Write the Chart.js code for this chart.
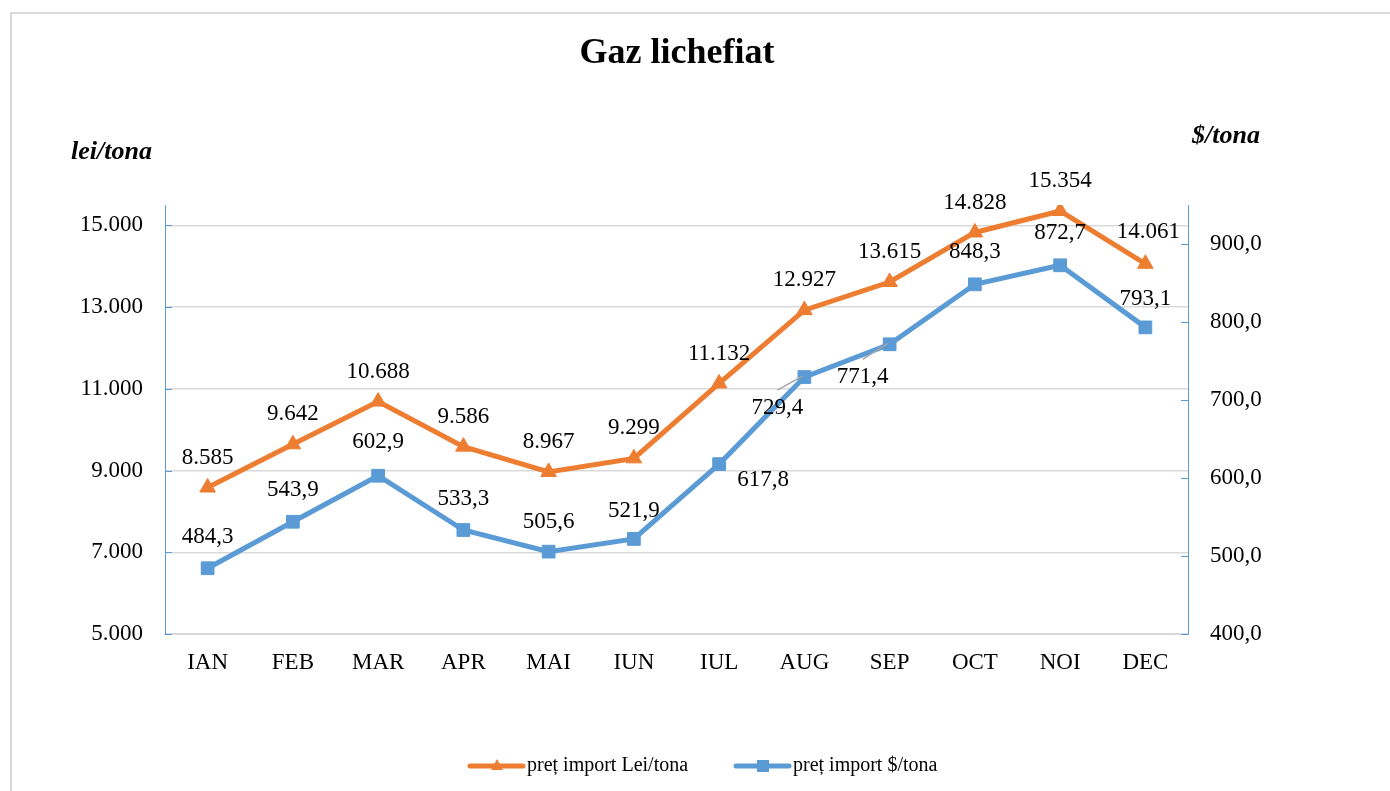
<!DOCTYPE html>
<html>
<head>
<meta charset="utf-8">
<script src="https://cdn.jsdelivr.net/npm/chart.js@4/dist/chart.umd.min.js"></script>
<style>
  html, body { margin: 0; padding: 0; background: #fff; }
  #wrap { width: 1390px; height: 791px; position: relative; }
</style>
</head>
<body>
<div id="wrap"><canvas id="chart"></canvas></div>
<script>
// date
const luni = ['IAN', 'FEB', 'MAR', 'APR', 'MAI', 'IUN', 'IUL', 'AUG', 'SEP', 'OCT', 'NOI', 'DEC'];
const pretLei = [8585, 9642, 10688, 9586, 8967, 9299, 11132, 12927, 13615, 14828, 15354, 14061];
const pretUsd = [484.3, 543.9, 602.9, 533.3, 505.6, 521.9, 617.8, 729.4, 771.4, 848.3, 872.7, 793.1];
const tickLei = [5000, 7000, 9000, 11000, 13000, 15000];
const tickUsd = [400, 500, 600, 700, 800, 900];

// pozitia etichetelor fata de punct (dx, dy)
const offLei = luni.map((l, i) => i === 11 ? [3, -32] : [0, -30]);
const offUsd = [[0, -31], [0, -32], [0, -34], [0, -31], [0, -30], [0, -28], [44, 16], [-27, 31], [-27, 33], [0, -32], [0, -32], [0, -28]];

const ORANGE = '#ED7D31';
const BLUE = '#5B9BD5';
const FONT = '"Liberation Serif", "Times New Roman", serif';

const fmtLei = v => Math.round(v).toString().replace(/\B(?=(\d{3})+(?!\d))/g, '.');
const fmtUsd = v => v.toFixed(1).replace('.', ',');

const decor = {
  id: 'decor',
  beforeDraw(chart) {
    const ctx = chart.ctx;
    ctx.save();
    ctx.strokeStyle = '#d9d9d9';
    ctx.lineWidth = 2;
    ctx.strokeRect(11, 13, 1400, 800);
    ctx.restore();
  },
  afterDraw(chart) {
    const ctx = chart.ctx;
    const ca = chart.chartArea;
    ctx.save();
    // titlu
    ctx.fillStyle = '#000';
    ctx.textAlign = 'center';
    ctx.textBaseline = 'middle';
    ctx.font = 'bold 36px ' + FONT;
    ctx.fillText('Gaz lichefiat', 677, 54);
    ctx.font = 'italic bold 26px ' + FONT;
    ctx.textAlign = 'left';
    ctx.fillText('lei/tona', 71, 152);
    ctx.fillText('$/tona', 1192, 136);

    // tick-uri interioare pe axe
    ctx.strokeStyle = BLUE;
    ctx.lineWidth = 1;
    const yl = chart.scales.y, yr = chart.scales.y1;
    yl.ticks.forEach(t => {
      const y = Math.round(yl.getPixelForValue(t.value)) + 0.5;
      ctx.beginPath(); ctx.moveTo(ca.left, y); ctx.lineTo(ca.left + 7, y); ctx.stroke();
    });
    yr.ticks.forEach(t => {
      const y = Math.round(yr.getPixelForValue(t.value)) + 0.5;
      ctx.beginPath(); ctx.moveTo(ca.right - 7, y); ctx.lineTo(ca.right, y); ctx.stroke();
    });

    // etichete de date
    ctx.font = '23px ' + FONT;
    ctx.textAlign = 'center';
    ctx.textBaseline = 'middle';
    const m0 = chart.getDatasetMeta(0), m1 = chart.getDatasetMeta(1);
    m0.data.forEach((p, i) => {
      ctx.fillText(fmtLei(pretLei[i]), p.x + offLei[i][0], p.y + offLei[i][1]);
    });
    m1.data.forEach((p, i) => {
      const dx = offUsd[i][0], dy = offUsd[i][1];
      if (dx < 0 && dy > 0) {
        // linie de legatura
        ctx.strokeStyle = '#a6a6a6';
        ctx.lineWidth = 1.5;
        ctx.beginPath();
        ctx.moveTo(p.x + dx, p.y + dy - 18);
        ctx.lineTo(p.x - 2, p.y - 1);
        ctx.stroke();
      }
      ctx.fillStyle = '#000';
      ctx.fillText(fmtUsd(pretUsd[i]), p.x + dx, p.y + dy);
    });

    // legenda
    const items = [
      { x: 470, color: ORANGE, style: 'triangle', label: chart.data.datasets[0].label },
      { x: 736, color: BLUE, style: 'rect', label: chart.data.datasets[1].label }
    ];
    ctx.font = '20px ' + FONT;
    ctx.textAlign = 'left';
    items.forEach(it => {
      const y = 766;
      ctx.strokeStyle = it.color;
      ctx.lineWidth = 5;
      ctx.lineCap = 'round';
      ctx.beginPath(); ctx.moveTo(it.x, y); ctx.lineTo(it.x + 53, y); ctx.stroke();
      ctx.fillStyle = it.color;
      ctx.beginPath();
      if (it.style === 'rect') ctx.rect(it.x + 21, y - 6, 12, 12);
      else { ctx.moveTo(it.x + 27, y - 7); ctx.lineTo(it.x + 33, y + 4); ctx.lineTo(it.x + 21, y + 4); ctx.closePath(); }
      ctx.fill();
      ctx.fillStyle = '#000';
      ctx.fillText(it.label, it.x + 57, y);
    });
    ctx.restore();
  }
};

new Chart(document.getElementById('chart'), {
  type: 'line',
  data: {
    labels: luni,
    datasets: [
      {
        label: 'preț import Lei/tona',
        data: pretLei,
        yAxisID: 'y',
        borderColor: ORANGE,
        backgroundColor: ORANGE,
        borderWidth: 5,
        pointStyle: 'triangle',
        pointRadius: 9,
        pointBorderWidth: 1,
        tension: 0
      },
      {
        label: 'preț import $/tona',
        data: pretUsd,
        yAxisID: 'y1',
        borderColor: BLUE,
        backgroundColor: BLUE,
        borderWidth: 5,
        pointStyle: 'rect',
        pointRadius: 9,
        pointBorderWidth: 1,
        tension: 0
      }
    ]
  },
  options: {
    responsive: true,
    maintainAspectRatio: false,
    animation: false,
    layout: { padding: { top: 205, bottom: 0, left: 0, right: 0 } },
    plugins: { legend: { display: false }, title: { display: false }, tooltip: { enabled: false } },
    scales: {
      x: {
        offset: true,
        grid: { display: false, drawTicks: false },
        border: { display: true, color: '#d9d9d9', width: 2 },
        ticks: { color: '#000', font: { family: FONT, size: 23 }, padding: 15, maxRotation: 0 },
        afterFit(s) { s.height = 791 - 634; }
      },
      y: {
        position: 'left',
        min: 5000,
        max: 15500,
        afterBuildTicks(s) { s.ticks = tickLei.map(v => ({ value: v })); },
        grid: { color: '#d9d9d9', lineWidth: 1.5, drawTicks: false },
        border: { display: true, color: BLUE, width: 1 },
        ticks: { color: '#000', font: { family: FONT, size: 23 }, padding: 22, callback: v => fmtLei(v) },
        afterFit(s) { s.width = 165; }
      },
      y1: {
        position: 'right',
        min: 400,
        max: 950,
        afterBuildTicks(s) { s.ticks = tickUsd.map(v => ({ value: v })); },
        grid: { display: false, drawTicks: false },
        border: { display: true, color: BLUE, width: 1 },
        ticks: { color: '#000', font: { family: FONT, size: 23 }, padding: 22, callback: v => fmtUsd(v) },
        afterFit(s) { s.width = 1390 - 1188; }
      }
    }
  },
  plugins: [decor]
});
</script>
</body>
</html>
